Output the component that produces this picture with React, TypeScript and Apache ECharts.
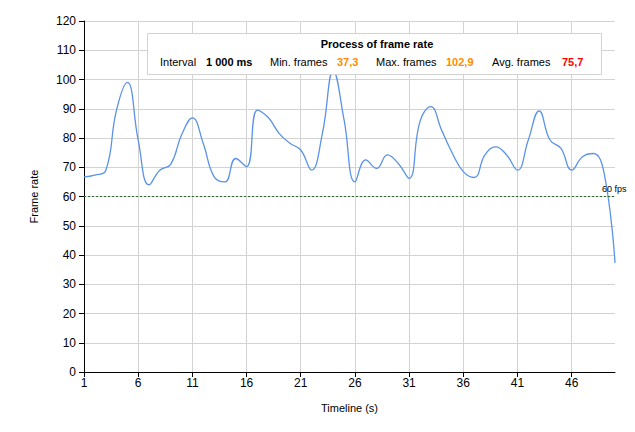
import React, { useEffect, useRef } from "react";
import * as echarts from "echarts";

const seconds: string[] = Array.from({ length: 50 }, (_, i) => String(i + 1));
const frameRate: number[] = [
  66.7, 67.3, 68.8, 89.5, 99, 79.3, 64, 69, 71, 81,
  86.9, 78.2, 66.8, 65, 73, 70.2, 89.5, 87, 81.6, 78.2,
  75.9, 69, 81.6, 102.9, 86.2, 65, 72.5, 69.6, 74.2, 71.3,
  66.2, 85.6, 90.7, 82.7, 74.7, 68.5, 66.5, 74.2, 77, 74.2,
  69, 79.3, 89.3, 79.3, 76.5, 69, 73.6, 74.7, 67.9, 37.3,
];
const targetFps = 60;
const title = "Process of frame rate";
const statLabels = ["Interval", "Min. frames", "Max. frames", "Avg. frames"];
const statValues = ["1 000 ms", "37,3", "102,9", "75,7"];

const FONT = "Liberation Sans, Arial, sans-serif";

export default function App() {
  const ref = useRef<HTMLDivElement>(null);
  useEffect(() => {
    if (!ref.current) return;
    const chart = echarts.init(ref.current, undefined, { renderer: "svg" });
    const valColors = ["#000000", "#FF8C00", "#FF8C00", "#FF0000"];
    const labelX = [160, 270, 376, 492];
    const valueX = [206, 337, 446, 562];
    const statTexts: any[] = [];
    statLabels.forEach((l, i) => {
      statTexts.push({
        type: "text", x: labelX[i], y: 62, z: 101,
        style: { text: l, font: `11px ${FONT}`, fill: "#000", textVerticalAlign: "middle" },
      });
      statTexts.push({
        type: "text", x: valueX[i], y: 62, z: 101,
        style: { text: statValues[i], font: `bold 11px ${FONT}`, fill: valColors[i], textVerticalAlign: "middle" },
      });
    });
    chart.setOption({
      animation: false,
      backgroundColor: "#fff",
      textStyle: { fontFamily: FONT },
      grid: { left: 84, right: 20, top: 21, bottom: 60 },
      xAxis: {
        type: "category",
        data: seconds,
        boundaryGap: false,
        name: "Timeline (s)",
        nameLocation: "middle",
        nameGap: 30,
        nameTextStyle: { fontSize: 11, color: "#000", fontFamily: FONT },
        axisLine: { lineStyle: { color: "#000", width: 1 } },
        axisTick: { interval: 4, length: 5, lineStyle: { color: "#000" } },
        axisLabel: { interval: 4, fontSize: 12, color: "#000", margin: 5, fontFamily: FONT },
        splitLine: { show: true, interval: 4, lineStyle: { color: "#d3d3d3", width: 1 } },
      },
      yAxis: {
        type: "value",
        min: 0,
        max: 120,
        interval: 10,
        name: "Frame rate",
        nameLocation: "middle",
        nameGap: 45,
        nameTextStyle: { fontSize: 11, color: "#000", fontFamily: FONT },
        axisLine: { show: true, lineStyle: { color: "#000", width: 1 } },
        axisTick: { show: true, length: 5, lineStyle: { color: "#000" } },
        axisLabel: { fontSize: 12, color: "#000", margin: 8, fontFamily: FONT },
        splitLine: { show: true, lineStyle: { color: "#d3d3d3", width: 1 } },
      },
      series: [
        {
          type: "line",
          data: frameRate,
          smooth: 0.45,
          showSymbol: false,
          lineStyle: { color: "#5A93E8", width: 1.3 },
          markLine: {
            silent: true,
            symbol: "none",
            data: [{ yAxis: targetFps }],
            lineStyle: { color: "#2E6B2E", type: [2, 2], width: 1 },
            label: {
              show: true,
              position: "end",
              formatter: "60 fps",
              fontSize: 9,
              color: "#000",
              fontFamily: FONT,
              offset: [-18, -8],
            },
          },
        },
      ],
      graphic: [
        {
          type: "rect", z: 100,
          shape: { x: 147.5, y: 33.5, width: 454, height: 41 },
          style: { fill: "#fff", stroke: "#d3d3d3", lineWidth: 1 },
        },
        {
          type: "text", x: 377, y: 44, z: 101,
          style: { text: title, font: `bold 11px ${FONT}`, fill: "#000", textAlign: "center", textVerticalAlign: "middle" },
        },
        ...statTexts,
      ],
    });
    return () => chart.dispose();
  }, []);
  return <div ref={ref} style={{ position: "fixed", left: 0, top: 0, width: 635, height: 432 }} />;
}
